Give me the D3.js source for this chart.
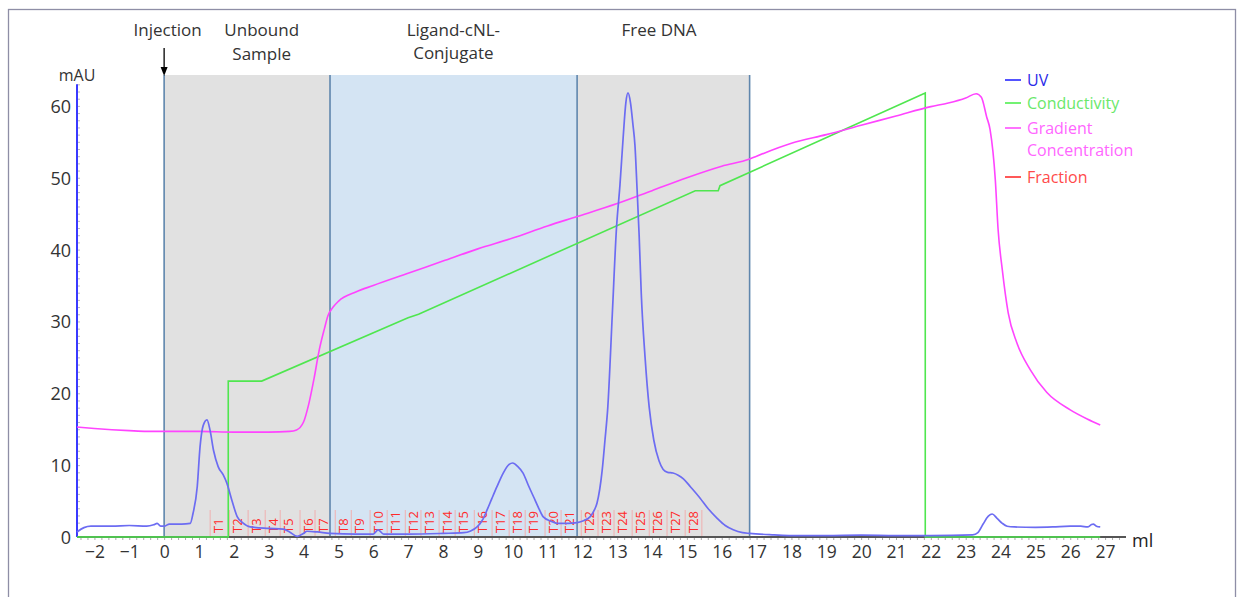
<!DOCTYPE html>
<html>
<head>
    <meta charset="utf-8">
    <title>Chromatogram</title>
    <script src="https://cdn.jsdelivr.net/npm/d3@7"></script>
    <style>
        html, body {
            margin: 0;
            background-color: #fff;
            font-family: "Open Sans", "Noto Sans", sans-serif;
        }
        svg text { font-family: "Open Sans", "Noto Sans", sans-serif; }
        .tick text { fill: #333; }
    </style>
</head>
<body>
<svg></svg>
<script>
    // --- data (ml, mAU) ---
    var uv = [
        [-2.5,0.7],[-2.3,1.3],[-2.1,1.5],[-1.5,1.5],[-1.0,1.6],[-0.5,1.5],[-0.3,1.7],[-0.2,1.9],[-0.1,1.5],
        [0,1.5],[0.15,1.8],[0.5,1.8],[0.75,1.9],[0.83,3.3],[0.95,7],[1.03,12.5],[1.12,15.5],[1.23,16.3],
        [1.32,14.8],[1.42,12],[1.55,9.8],[1.7,8.6],[1.8,7.5],[1.95,5.0],[2.1,2.8],[2.25,2.0],[2.47,1.4],
        [3.0,1.2],[3.42,1.1],[3.6,0.7],[3.82,0.1],[4.0,0.5],[4.1,0.8],[4.4,0.7],[4.76,0.5],[5.5,0.4],
        [6.0,0.4],[6.14,1.0],[6.3,0.4],[7,0.4],[8,0.5],[8.6,0.6],[8.78,0.8],[8.98,1.4],[9.15,2.5],
        [9.27,3.8],[9.4,5.3],[9.55,7.0],[9.73,8.9],[9.9,10.1],[10.0,10.3],[10.15,9.8],[10.3,8.9],
        [10.45,7.2],[10.6,5.6],[10.75,4.0],[10.88,2.8],[11.1,2.2],[11.28,1.9],[11.6,1.9],[11.85,2.0],
        [12.05,2.3],[12.22,2.8],[12.35,3.8],[12.42,4.7],[12.57,9.3],[12.65,13.5],[12.73,18],[12.86,31],
        [12.98,43],[13.08,49],[13.17,55.5],[13.25,60.5],[13.31,61.8],[13.38,60.5],[13.45,57.5],[13.51,54.5],
        [13.57,48.5],[13.63,42],[13.69,34],[13.8,25],[13.92,18],[14.05,13.5],[14.2,10.6],[14.32,9.4],
        [14.45,9.0],[14.6,8.9],[14.75,8.6],[14.9,8.1],[15.1,7.0],[15.38,5.4],
        [15.6,4.0],[15.87,2.6],[16.1,1.6],[16.33,1.0],[16.6,0.6],[16.8,0.5],[17.5,0.3],[18,0.2],[19,0.2],
        [20,0.25],[21,0.2],[22,0.2],[23.2,0.3],[23.35,0.6],[23.5,1.8],[23.65,2.9],[23.76,3.2],[23.9,2.6],
        [24.05,1.9],[24.19,1.5],[24.4,1.4],[25,1.35],[25.5,1.4],[26,1.5],[26.3,1.5],[26.5,1.4],[26.6,1.7],
        [26.66,1.8],[26.75,1.5],[26.86,1.4]
    ];

    var conductivity = [
        [-2.5,0],[1.84,0],[1.84,21.7],[2.8,21.7],[7.0,30.5],[7.3,31.0],[15.24,48.2],[15.9,48.2],
        [15.95,48.9],[21.84,61.8],[21.84,0],[26.86,0]
    ];

    var gradient = [
        [-2.5,15.3],[-2,15.1],[-1,14.8],[-0.5,14.7],[0,14.7],[1,14.7],[2,14.6],[3,14.6],[3.6,14.7],
        [3.8,14.9],[4.0,16],[4.15,18.5],[4.3,22],[4.45,26],[4.6,29],[4.7,30.8],[4.85,32.0],[5.0,32.8],[5.5,34.1],
        [6,35],[7,36.7],[8,38.4],[9,40.1],[10,41.6],[11,43.3],[11.85,44.6],[13,46.4],[14,48.2],[15,50],
        [16,51.6],[16.8,52.6],[17,53],[18,54.8],[19,56],[20,57.3],[21,58.6],[22,59.9],[22.5,60.4],
        [23,61.1],[23.3,61.7],[23.45,61.2],[23.6,58.5],[23.7,56.7],[23.85,49.7],[23.93,42.8],[24.05,37.2],
        [24.22,31.2],[24.47,27],[24.85,23.3],[25.33,20.1],[26,17.7],[26.5,16.4],[26.86,15.6]
    ];

    // fraction start volumes T1..T28, plus end of last fraction
    var fractionStarts = [1.32,1.87,2.41,2.90,3.33,3.90,4.33,4.91,5.37,5.91,6.40,6.92,7.37,7.89,
        8.35,8.90,9.41,9.90,10.36,10.93,11.39,11.97,12.45,12.91,13.43,13.92,14.43,14.95];
    var fractionEnd = 15.43;

    var regionNames = ['unbound', 'conjugate', 'free'];
    var regionStarts = [0, 4.76, 11.85];
    var regionEnds = [4.76, 11.85, 16.8];

    var yTicks = [0, 10, 20, 30, 40, 50, 60];
    var xTicks = d3.range(-2, 28);

    var legendNames = ['UV', 'Conductivity', 'Gradient\nConcentration', 'Fraction'];

    (function () {
        var w = 1245, h = 597;
        var svg = d3.select('svg').attr('width', w).attr('height', h);

        var x = d3.scaleLinear().domain([-2.5, 27.6]).range([77, 1126]);
        var y = d3.scaleLinear().domain([0, 64.3]).range([537, 75]);

        // outer frame
        svg.append('rect')
            .attr('x', 8.5).attr('y', 9.5).attr('width', 1227).attr('height', 620)
            .style('fill', 'none').style('stroke', '#8e8ea6').style('stroke-width', 1.3);

        // shaded regions
        var fills = { unbound: '#e1e1e1', conjugate: '#d4e4f3', free: '#e1e1e1' };
        regionNames.forEach(function (n, i) {
            svg.append('rect')
                .attr('x', x(regionStarts[i]))
                .attr('y', y.range()[1])
                .attr('width', x(regionEnds[i]) - x(regionStarts[i]))
                .attr('height', y(0) - y.range()[1])
                .style('fill', fills[n]);
        });

        // fractions
        var fr = svg.append('g').attr('class', 'fractions');
        var fLines = fractionStarts.concat([fractionEnd]);
        fr.selectAll('line').data(fLines).enter().append('line')
            .attr('x1', function (d) { return x(d); })
            .attr('x2', function (d) { return x(d); })
            .attr('y1', y(0)).attr('y2', y(0) - 27)
            .style('stroke', '#f0b0b0').style('stroke-width', 1);
        fr.selectAll('text').data(fractionStarts).enter().append('text')
            .attr('transform', function (d) {
                return 'translate(' + (x(d) + 13) + ',' + (y(0) - 4) + ')rotate(-90)';
            })
            .text(function (d, i) { return 'T' + (i + 1); })
            .style('font-size', '13px').style('fill', '#ff2a2a');

        // region boundaries
        var bounds = [regionStarts[0], regionStarts[1], regionStarts[2], regionEnds[2]];
        svg.selectAll('line.bound').data(bounds).enter().append('line')
            .attr('class', 'bound')
            .attr('x1', function (d) { return x(d); })
            .attr('x2', function (d) { return x(d); })
            .attr('y1', y.range()[1]).attr('y2', y(0))
            .style('stroke', '#5f86ad').style('stroke-width', 1.6);

        // y axis
        var yAx = svg.append('g').attr('transform', 'translate(' + x(-2.5) + ',0)');
        yAx.call(d3.axisRight(y).tickValues(d3.range(0, 64, 1)).tickSize(3).tickFormat(''));
        yAx.selectAll('.tick line').style('stroke', '#bbb');
        yAx.select('.domain').remove();
        var yLab = svg.append('g').attr('transform', 'translate(' + x(-2.5) + ',0)')
            .call(d3.axisLeft(y).tickValues(yTicks).tickSize(0).tickPadding(6));
        yLab.select('.domain').remove();
        yLab.selectAll('text').style('font-size', '18px').attr('dy', '0.36em');
        svg.append('line')
            .attr('x1', x(-2.5)).attr('x2', x(-2.5)).attr('y1', y(0)).attr('y2', y(63))
            .style('stroke', '#3a3aff').style('stroke-width', 2);
        svg.append('text').attr('x', x(-2.5)).attr('y', 81)
            .attr('text-anchor', 'middle').style('font-size', '16px').style('fill', '#333')
            .text('mAU');

        // x axis
        var xMin = svg.append('g').attr('transform', 'translate(0,' + y(0) + ')')
            .call(d3.axisBottom(x).tickValues(d3.range(-2.4, 27.6, 0.2)).tickSize(3).tickFormat(''));
        xMin.selectAll('.tick line').style('stroke', '#aaa');
        xMin.select('.domain').remove();
        var xAx = svg.append('g').attr('transform', 'translate(0,' + y(0) + ')')
            .call(d3.axisBottom(x).tickValues(xTicks).tickSize(0).tickPadding(9)
                .tickFormat(d3.format('d')));
        xAx.select('.domain').remove();
        xAx.selectAll('text').style('font-size', '17.5px');
        svg.append('line')
            .attr('x1', x(-2.5)).attr('x2', x(27.6)).attr('y1', y(0)).attr('y2', y(0))
            .style('stroke', '#555').style('stroke-width', 2);
        svg.append('text').attr('x', 1132).attr('y', 547)
            .style('font-size', '18px').style('fill', '#222').text('ml');

        // curves
        var line = d3.line()
            .x(function (d) { return x(d[0]); })
            .y(function (d) { return y(d[1]); });

        svg.append('path').datum(conductivity)
            .attr('d', line.curve(d3.curveLinear))
            .style('fill', 'none').style('stroke', '#4fe64f').style('stroke-width', 1.6);

        svg.append('path').datum(gradient)
            .attr('d', line.curve(d3.curveMonotoneX))
            .style('fill', 'none').style('stroke', '#ff44ff').style('stroke-width', 1.6);

        svg.append('path').datum(uv)
            .attr('d', line.curve(d3.curveMonotoneX))
            .style('fill', 'none').style('stroke', '#6c6cf2').style('stroke-width', 1.7);

        // top annotations
        var ann = svg.append('g').style('font-size', '17px').style('fill', '#333')
            .attr('text-anchor', 'middle');
        ann.append('text').attr('x', x(0.1)).attr('y', 36).text('Injection');
        ann.append('text').attr('x', x(2.8)).attr('y', 36).text('Unbound');
        ann.append('text').attr('x', x(2.8)).attr('y', 60).text('Sample');
        ann.append('text').attr('x', x(8.3)).attr('y', 36).text('Ligand-cNL-');
        ann.append('text').attr('x', x(8.3)).attr('y', 59).text('Conjugate');
        ann.append('text').attr('x', x(14.2)).attr('y', 36).text('Free DNA');

        // injection arrow
        svg.append('line')
            .attr('x1', x(0)).attr('x2', x(0)).attr('y1', 48).attr('y2', 70)
            .style('stroke', '#000').style('stroke-width', 1.3);
        svg.append('path')
            .attr('d', 'M' + (x(0) - 3.5) + ',67L' + x(0) + ',76L' + (x(0) + 3.5) + ',67Z')
            .style('fill', '#000');

        // legend
        var swatch = ['#1a1aff', '#44ee44', '#ff44ff', '#ff2020'];
        var txtCol = ['#2a2ae8', '#6ae86a', '#ff66ff', '#ff4a4a'];
        var rowY = [80, 103, 128, 177];
        var lg = svg.append('g');
        legendNames.forEach(function (n, i) {
            lg.append('line')
                .attr('x1', 1005).attr('x2', 1021).attr('y1', rowY[i]).attr('y2', rowY[i])
                .style('stroke', swatch[i]).style('stroke-width', 1.5);
            var parts = n.split('\n');
            parts.forEach(function (p, j) {
                lg.append('text')
                    .attr('x', 1027).attr('y', rowY[i] + 6 + j * 22)
                    .style('font-size', '16px').style('fill', txtCol[i])
                    .text(p);
            });
        });
    })();
</script>
</body>
</html>
